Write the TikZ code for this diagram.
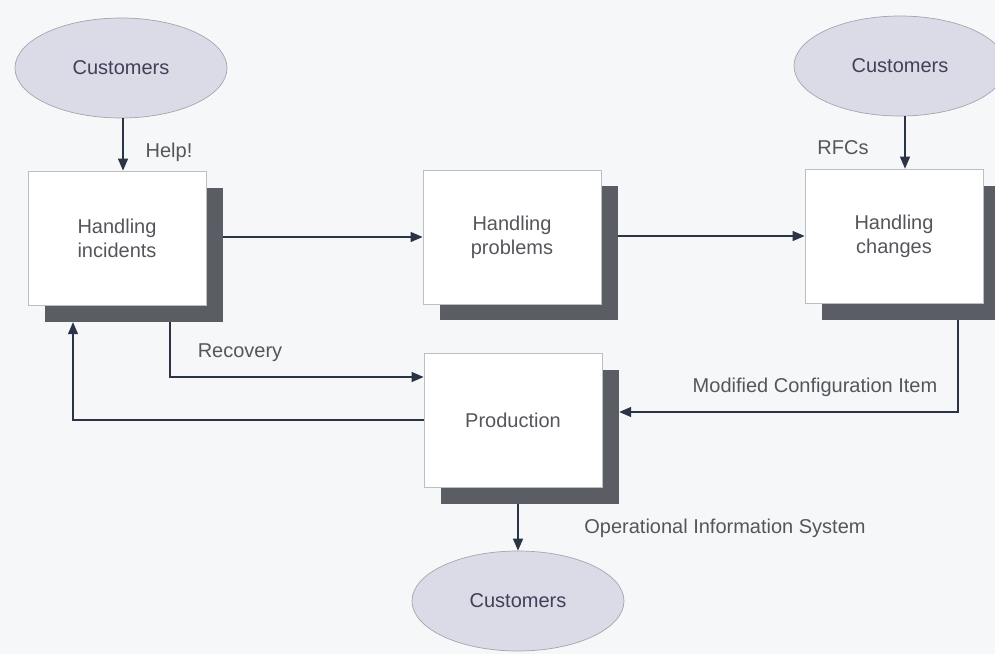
\documentclass[tikz,border=0pt]{standalone}
\usepackage{fontspec}
\setmainfont{Liberation Sans}
\usetikzlibrary{shapes.geometric,arrows.meta,calc}
\definecolor{bgc}{HTML}{F6F7F9}
\definecolor{ellfill}{HTML}{DADBE6}
\definecolor{elldraw}{HTML}{A4A5B0}
\definecolor{boxdraw}{HTML}{BDBEC2}
\definecolor{shadc}{HTML}{5B5D64}
\definecolor{linec}{HTML}{2B3346}
\definecolor{txtc}{HTML}{55565C}
\definecolor{etxt}{HTML}{3E4158}
\begin{document}
\begin{tikzpicture}[x=1pt,y=-1pt,
  font=\fontsize{20}{24}\selectfont,
  procbox/.style={draw=boxdraw, line width=0.8pt, fill=white, minimum width=178pt, minimum height=134pt, inner sep=0pt, align=center, text=txtc},
  shadowbox/.style={fill=shadc, draw=none, minimum width=178pt, minimum height=134pt, inner sep=0pt},
  cust/.style={ellipse, draw=elldraw, line width=0.7pt, fill=ellfill, minimum width=212pt, minimum height=100pt, inner sep=0pt, text=etxt},
  arr/.style={draw=linec, line width=1.3pt, -{Triangle[length=12pt,width=10pt]}},
  lbl/.style={text=txtc, inner sep=0pt}
]
\fill[bgc] (0,0) rectangle (995,654);
\useasboundingbox (0,0) rectangle (995,654);

% ellipses
\node[cust] (e1) at (121,68) {Customers};
\node[cust] (e3) at (900,66) {Customers};
\node[cust] (e4) at (518,601) {Customers};

% shadows
\node[shadowbox] (s1) at (134,255) {};
\node[shadowbox] (s2) at (529,253) {};
\node[shadowbox] (s3) at (911,253) {};
\node[shadowbox] (sp) at (530,437) {};

% boxes
\node[procbox] (b1) at (117,238) {Handling\\incidents};
\node[procbox] (b2) at (512,237) {Handling\\problems};
\node[procbox] (b3) at (894,236) {Handling\\changes};
\node[procbox] (pr) at (513,420) {Production};

% connectors
\draw[arr] ([xshift=2pt]e1.south) -- ([xshift=2pt]e1.south |- b1.north);
\node[lbl] (lh) at (169,152) {Help!};

\draw[arr] ([xshift=5pt]e3.south) -- ([xshift=5pt]e3.south |- b3.north);
\node[lbl] (lr) at (843,148) {RFCs};

\draw[arr] (b2.west -| s1.east) -- (b2.west);
\draw[arr] (b3.west -| s2.east) -- (b3.west);

\draw[arr] ($(s1.south)+(36,0)$) |- ($(pr.west)+(0,-43)$);
\node[lbl] (lrec) at (240,353) {Recovery};

\draw[arr] (pr.west) -| ($(s1.south)+(-61,0)$);

\draw[arr] ($(s3.south)+(47,0)$) |- ($(sp.east |- pr.east)+(0,-8)$);
\node[lbl] (lmod) at (815,387) {Modified Configuration Item};

\draw[arr] (e4.north |- sp.south) -- (e4.north);
\node[lbl] (lop) at (725,528) {Operational Information System};
\end{tikzpicture}
\end{document}
